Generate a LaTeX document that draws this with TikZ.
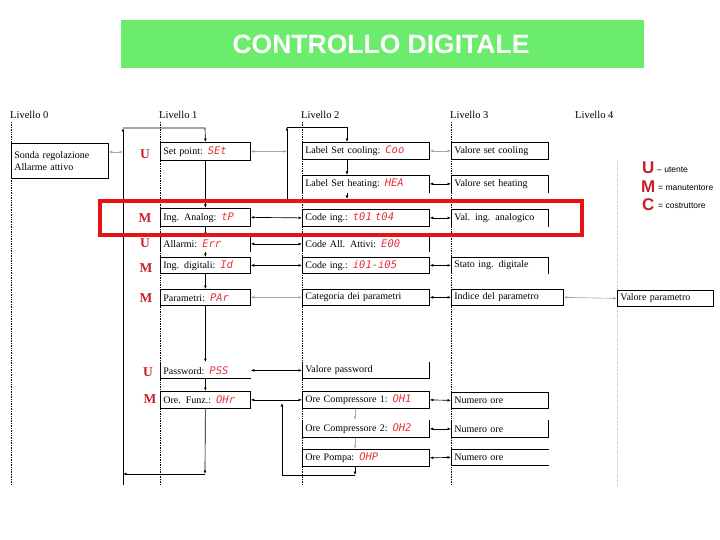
\documentclass[tikz,border=0pt]{standalone}
\usepackage{fontspec}
\setmainfont{Liberation Serif}
\setsansfont{Liberation Sans}
\newfontfamily\segfont{DejaVu Sans Mono}
\usetikzlibrary{arrows.meta}
\definecolor{titlegreen}{RGB}{108,236,108}
\definecolor{accred}{RGB}{200,30,40}
\definecolor{segred}{RGB}{230,50,60}
\definecolor{frred}{RGB}{228,20,20}
\newcommand{\sv}[1]{{\segfont\itshape\color{segred}\fontsize{10.5}{11}\selectfont #1}}
\begin{document}
\begin{tikzpicture}[x=1pt,y=-1pt,
  bx/.style={draw, line width=0.75pt, anchor=north west, inner xsep=3pt, inner ysep=0pt, align=left, font=\fontsize{10}{12}\selectfont},
  ob/.style={bx, draw=none},
  edgeline/.style={line width=0.75pt},
  lvl/.style={densely dotted, line width=0.7pt},
  lvlab/.style={anchor=south west, inner sep=0pt, font=\fontsize{10.5}{12}\selectfont},
  arr/.style={line width=0.65pt, -{Latex[length=3.5pt,width=2.8pt]}},
  darr/.style={line width=0.65pt, {Latex[length=3.5pt,width=2.8pt]}-{Latex[length=3.5pt,width=2.8pt]}},
  garr/.style={darr, draw=gray!70},
  garr1/.style={arr, draw=gray!70},
  role/.style={font=\bfseries\fontsize{13.5}{13.5}\selectfont, text=accred, inner sep=0pt},
  legl/.style={font=\sffamily\bfseries\fontsize{17}{17}\selectfont, text=accred, inner sep=0pt, anchor=west},
  legt/.style={font=\sffamily\fontsize{8.5}{9}\selectfont, inner sep=0pt, anchor=west},
]
\useasboundingbox (0,0) rectangle (720,540);

% title
\node[fill=titlegreen, minimum width=523pt, minimum height=48pt, anchor=north west, inner sep=0pt] (title) at (121,20) {};
\node[text=white, font=\sffamily\bfseries\fontsize{26.5}{30}\selectfont, inner sep=0pt] (ttext) at (381,44) {CONTROLLO DIGITALE};

% level lines and labels
\node[lvlab] (lv0) at (10,119) {Livello 0};
\node[lvlab] (lv1) at (159,119) {Livello 1};
\node[lvlab] (lv2) at (301,119) {Livello 2};
\node[lvlab] (lv3) at (450,119) {Livello 3};
\node[lvlab] (lv4) at (575,119) {Livello 4};
\draw[lvl] (11,122) -- (11,485);
\draw[lvl] (160,122) -- (160,485);
\draw[lvl] (302,122) -- (302,485);
\draw[lvl] (451,122) -- (451,485);
\draw[lvl, gray!45] (617,160) -- (617,485);

% level 0
\node[bx, text width=91pt, minimum height=35pt] (sonda) at (11,143) {Sonda regolazione\\Allarme attivo};

% level 1
\node[bx, text width=84pt, minimum height=18pt] (sp) at (160,142) {Set point: \sv{SEt}};
\node[bx, text width=84pt, minimum height=18pt] (ia) at (160,208) {Ing. Analog: \sv{tP}};
\node[ob, text width=84pt, minimum height=15pt] (al) at (160,236) {Allarmi: \sv{Err}};
\node[bx, text width=84pt, minimum height=16pt] (id) at (160,257) {Ing. digitali: \sv{Id}};
\node[bx, text width=84pt, minimum height=16pt] (pa) at (160,289) {Parametri: \sv{PAr}};
\node[ob, text width=84pt, minimum height=16pt] (pw) at (160,362) {Password: \sv{PSS}};
\node[bx, text width=84pt, minimum height=17pt] (of) at (160,391) {Ore. Funz.: \sv{OHr}};
\draw[edgeline] (al.south west) -- (al.north west) -- (al.north east) -- (al.south east);
\draw[edgeline] (pw.north west) -- (pw.south west) -- (pw.south east);

% level 2
\node[bx, text width=121pt, minimum height=17pt] (lc) at (302,142) {Label Set cooling: \sv{Coo}};
\node[ob, text width=121pt, minimum height=17pt] (lh) at (302,175) {Label Set heating: \sv{HEA}};
\node[bx, text width=121pt, minimum height=17pt] (ci) at (302,209) {Code ing.: \sv{t01 t04}};
\node[ob, text width=121pt, minimum height=15pt] (ca) at (302,236) {Code All. Attivi: \sv{E00}};
\node[bx, text width=121pt, minimum height=16pt] (cd) at (302,257) {Code ing.: \sv{i01-i05}};
\node[bx, text width=121pt, minimum height=16pt] (cp) at (302,289) {Categoria dei parametri};
\node[ob, text width=121pt, minimum height=16pt] (vp) at (302,362) {Valore password};
\node[bx, text width=121pt, minimum height=17pt] (o1) at (302,391) {Ore Compressore 1: \sv{OH1}};
\node[ob, text width=121pt, minimum height=17pt] (o2) at (302,420) {Ore Compressore 2: \sv{OH2}};
\node[bx, text width=121pt, minimum height=17pt] (op) at (302,449) {Ore Pompa: \sv{OHP}};
\draw[edgeline] (lh.south west) -- (lh.north west) -- (lh.north east) -- (lh.south east);
\draw[edgeline] (ca.south west) -- (ca.north west) -- (ca.north east) -- (ca.south east);
\draw[edgeline] (vp.north west) -- (vp.south west) -- (vp.south east) -- (vp.north east);
\draw[edgeline] (o2.north west) -- (o2.south west) -- (o2.south east) -- (o2.north east);

% level 3
\node[bx, text width=91pt, minimum height=17pt] (vc) at (451,142) {Valore set cooling};
\node[ob, text width=91pt, minimum height=17pt] (vh) at (451,175) {Valore set heating};
\node[ob, text width=91pt, minimum height=17pt] (va) at (451,209) {Val. ing. analogico};
\node[ob, text width=91pt, minimum height=16pt] (sd) at (451,257) {Stato ing. digitale};
\node[bx, text width=106pt, minimum height=16pt] (ip) at (451,289) {Indice del parametro};
\node[bx, text width=91pt, minimum height=16pt] (n1) at (451,392) {Numero ore};
\node[ob, text width=91pt, minimum height=17pt] (n2) at (451,420) {Numero ore};
\node[ob, text width=91pt, minimum height=16pt] (n3) at (451,449) {Numero ore};
\draw[edgeline] (vh.south west) -- (vh.north west) -- (vh.north east) -- (vh.south east);
\draw[edgeline] (va.south west) -- (va.north west) -- (va.north east) -- (va.south east);
\draw[edgeline] (sd.south west) -- (sd.north west) -- (sd.north east) -- (sd.south east);
\draw[edgeline] (n2.north west) -- (n2.south west) -- (n2.south east) -- (n2.north east);
\draw[edgeline] (n3.north east) -- (n3.north west) -- (n3.south west) -- (n3.south east);

% level 4
\node[bx, text width=90pt, minimum height=16pt] (vpar) at (617,290) {Valore parametro};

% level 1 loop
\coordinate (a1) at (123,128);
\coordinate (a1r) at (205,128);
\coordinate (a1b) at (123,485);
\coordinate (a1c) at (205,474);
\coordinate (a1d) at (123,474);
\coordinate (so2) at (123,152);
\draw[arr] (a1b) -- (a1);
\draw[arr] (a1) -- (a1r) -- (sp.north);
\draw[garr] (sonda.east |- so2) -- (so2);
\draw[arr] (sp.south) -- (ia.north -| sp.south);
\draw[arr] (ia.south -| sp.south) -- (al.north -| sp.south);
\draw[arr] (al.south -| sp.south) -- (id.north -| sp.south);
\draw[arr] (id.south -| sp.south) -- (pa.north -| sp.south);
\draw[arr] (pa.south -| sp.south) -- (pw.north -| sp.south);
\draw[arr] (pw.south -| sp.south) -- (of.north -| sp.south);
\draw[arr] (of.south -| sp.south) -- (a1c);
\draw[arr] (a1c) -- (a1d);

% level 2 loop (set)
\coordinate (b1) at (287,202);
\coordinate (b2) at (287,127);
\coordinate (b3) at (347,127);
\coordinate (b4) at (347,199);
\draw[arr] (b1) -- (b2);
\draw[garr] (sp.east) -- (sp.east -| b1);
\draw[arr] (b2) -- (b3) -- (b3 |- lc.north);
\draw[arr] (lc.south -| b3) -- (lh.north -| b3);
\draw[arr] (lh.south -| b3) -- (b4);

% level 1 <-> level 2
\draw[darr] (ia.east) -- (ci.west);
\draw[darr] (al.east) -- (ca.west);
\draw[darr] (id.east) -- (cd.west);
\draw[garr] (pa.east) -- (cp.west);
\draw[darr] (pw.east) -- (vp.west);
\draw[darr] (of.east) -- (o1.west);

% level 2 <-> level 3
\draw[garr] (lc.east) -- (vc.west);
\draw[darr] (lh.east) -- (vh.west);
\draw[darr] (ci.east) -- (va.west);
\draw[darr] (cd.east) -- (sd.west);
\draw[darr] (cp.east) -- (ip.west);
\draw[darr] (o1.east) -- (n1.west);
\draw[darr] (o2.east) -- (n2.west);
\draw[darr] (op.east) -- (n3.west);
\draw[garr] (ip.east) -- (vpar.west);

% ore loop
\coordinate (c1) at (355,475);
\coordinate (c2) at (282,475);
\coordinate (c3) at (282,403);
\draw[garr1] (o1.south -| c1) -- (o2.north -| c1);
\draw[garr1] (o2.south -| c1) -- (op.north -| c1);
\draw[arr] (op.south -| c1) -- (c1);
\draw[arr] (c1) -- (c2) -- (c3);

% role letters
\node[role] (r1) at (145,154) {U};
\node[role] (r2) at (145,218) {M};
\node[role] (r3) at (145,243) {U};
\node[role] (r4) at (146,268) {M};
\node[role] (r5) at (146,298) {M};
\node[role] (r6) at (148,372) {U};
\node[role] (r7) at (150,399) {M};

% legend
\node[legl] (lu) at (642,168) {U};
\node[legt] (lut) at (657,170) {– utente};
\node[legl] (lm) at (641,187) {M};
\node[legt] (lmt) at (658,188) {= manutentore};
\node[legl] (lc2) at (642,205) {C};
\node[legt] (lct) at (658,206) {= costruttore};

% highlight frame
\draw[frred, line width=4pt] (99.5,201.5) rectangle (581.5,235);
\end{tikzpicture}
\end{document}
